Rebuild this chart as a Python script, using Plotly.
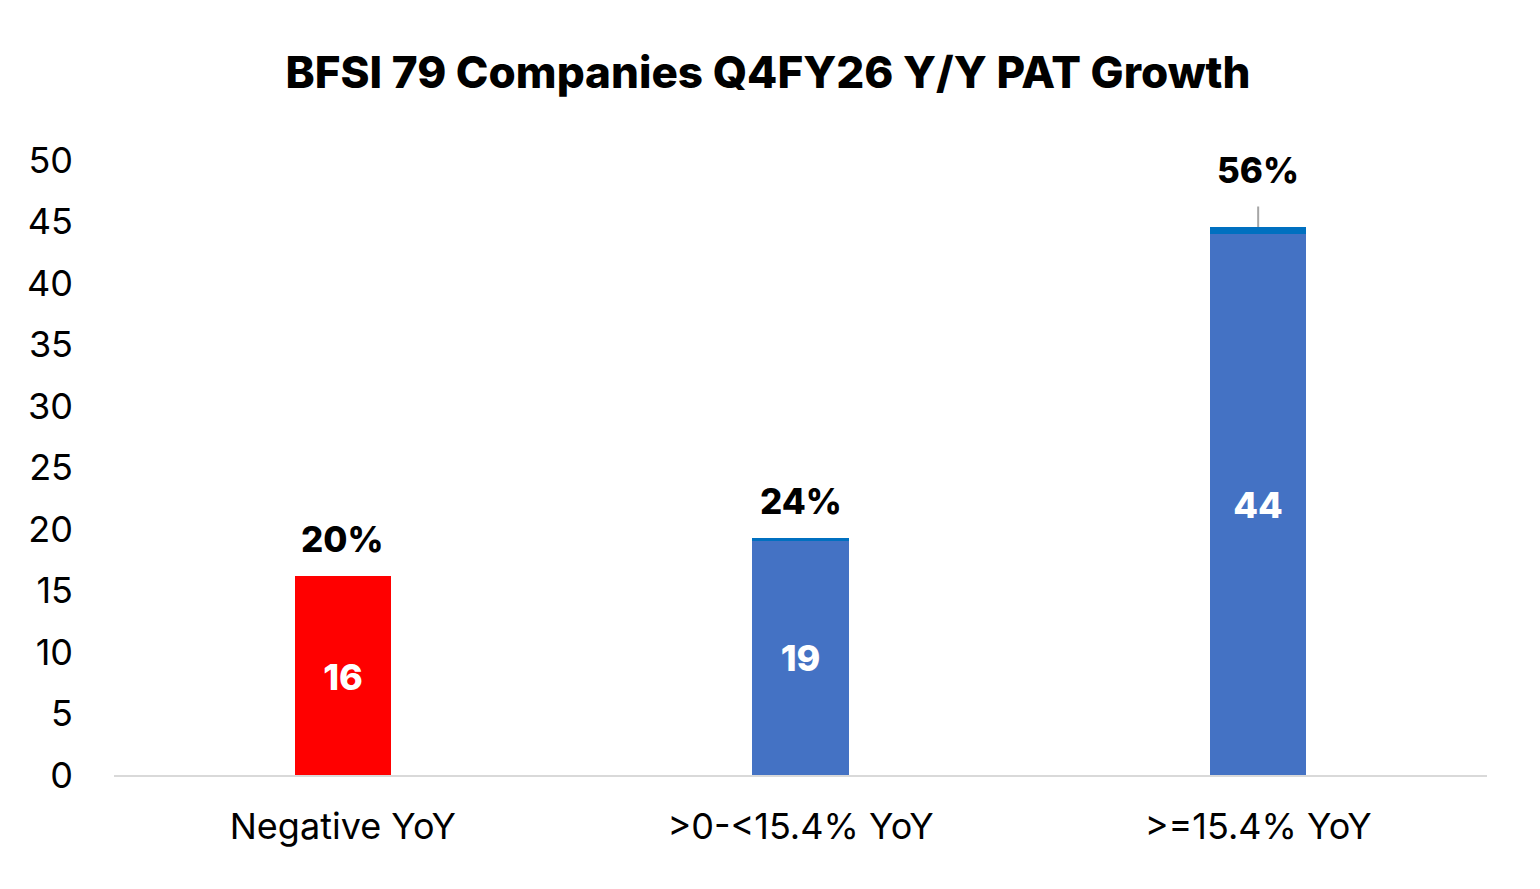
import plotly.graph_objects as go

categories = ["Negative YoY", ">0-<15.4% YoY", ">=15.4% YoY"]
counts = [16, 19, 44]
shares = [0.20, 0.24, 0.56]
pct_labels = ["20%", "24%", "56%"]
bar_colors = ["#FF0000", "#4472C4", "#4472C4"]
cap_colors = ["#FF0000", "#0070C0", "#0070C0"]
title_text = "BFSI 79 Companies Q4FY26 Y/Y PAT Growth"

FONT = "Inter"

fig = go.Figure()
fig.add_trace(go.Bar(
    x=categories, y=counts, width=0.21,
    marker=dict(color=bar_colors, line=dict(width=0)),
    text=[str(v) for v in counts], textposition="inside",
    insidetextanchor="middle",
    textfont=dict(family=FONT, size=36, color="white", weight=800),
    hoverinfo="skip", showlegend=False,
))
fig.add_trace(go.Bar(
    x=categories, y=shares, width=0.21,
    marker=dict(color=cap_colors, line=dict(width=0)),
    hoverinfo="skip", showlegend=False,
))

for i, (c, n, s, lab) in enumerate(zip(categories, counts, shares, pct_labels)):
    top = n + s
    if i == 2:
        fig.add_annotation(x=c, y=top, text=lab, showarrow=True,
                           arrowhead=0, arrowwidth=2, arrowcolor="#A6A6A6",
                           ax=0, ay=-57, startstandoff=14,
                           font=dict(family=FONT, size=35, color="black", weight=800))
    else:
        fig.add_annotation(x=c, y=top, text=lab, showarrow=False,
                           yanchor="middle", yshift=37,
                           font=dict(family=FONT, size=35, color="black", weight=800))

fig.update_layout(
    barmode="stack",
    width=1540, height=889,
    paper_bgcolor="white", plot_bgcolor="white",
    margin=dict(l=106, r=61, t=152, b=122),
    title=dict(text=title_text, x=(768 - 8) / 1540, xanchor="center",
               y=1 - 65 / 889, yanchor="middle",
               font=dict(family=FONT, size=44, color="black", weight=800)),
    xaxis=dict(showgrid=False, showline=True, linecolor="#D9D9D9", linewidth=2,
               ticks="", tickfont=dict(family=FONT, size=36, color="black"),
               ticklabelstandoff=19),
    yaxis=dict(range=[0, 50], dtick=5, showgrid=False, zeroline=False,
               showline=False, ticks="",
               tickfont=dict(family=FONT, size=36, color="black"),
               ticklabelstandoff=40),
    bargap=0,
)

fig.write_html("out.html")
